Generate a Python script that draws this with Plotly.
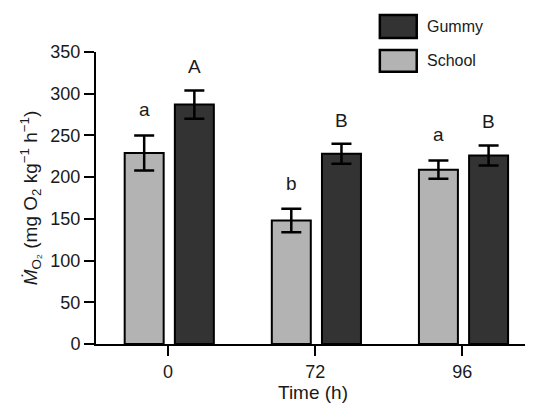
import plotly.graph_objects as go

categories = ["0", "72", "96"]
school_mean = [229, 148, 209]
school_err = [21, 14, 11]
gummy_mean = [287, 228, 226]
gummy_err = [17, 12, 12]
school_letters = ["a", "b", "a"]
gummy_letters = ["A", "B", "B"]

y_ticks = [0, 50, 100, 150, 200, 250, 300, 350]

SCHOOL_COLOR = "#b3b3b3"
GUMMY_COLOR = "#333333"
FONT = "Liberation Sans, Arial, sans-serif"
TEXT_COLOR = "#1a1a1a"

xpos = list(range(len(categories)))
BAR_W = 0.265
SCHOOL_OFF = -0.295
GUMMY_OFF = 0.046

fig = go.Figure()
fig.add_trace(go.Bar(
    x=xpos, y=school_mean, name="School",
    width=BAR_W, offset=SCHOOL_OFF,
    marker=dict(color=SCHOOL_COLOR, line=dict(color="black", width=2)),
    error_y=dict(type="data", array=school_err, visible=True,
                 color="black", thickness=2.5, width=10),
    showlegend=False,
))
fig.add_trace(go.Bar(
    x=xpos, y=gummy_mean, name="Gummy",
    width=BAR_W, offset=GUMMY_OFF,
    marker=dict(color=GUMMY_COLOR, line=dict(color="black", width=2)),
    error_y=dict(type="data", array=gummy_err, visible=True,
                 color="black", thickness=2.5, width=10),
    showlegend=False,
))

annotations = []
for i in xpos:
    annotations.append(dict(
        x=i + SCHOOL_OFF + BAR_W / 2, y=school_mean[i] + school_err[i],
        xref="x", yref="y", text=school_letters[i], showarrow=False,
        yanchor="bottom", yshift=13,
        font=dict(family=FONT, size=19, color=TEXT_COLOR)))
    annotations.append(dict(
        x=i + GUMMY_OFF + BAR_W / 2, y=gummy_mean[i] + gummy_err[i],
        xref="x", yref="y", text=gummy_letters[i], showarrow=False,
        yanchor="bottom", yshift=11,
        font=dict(family=FONT, size=19, color=TEXT_COLOR)))

# manual legend (boxes drawn as shapes in paper coordinates)
legend_items = [("Gummy", GUMMY_COLOR, 1.048, 1.127), ("School", SCHOOL_COLOR, 0.932, 1.007)]
shapes = []
for name, col, y0, y1 in legend_items:
    shapes.append(dict(type="rect", xref="paper", yref="paper",
                       x0=0.654, x1=0.739, y0=y0, y1=y1,
                       fillcolor=col, line=dict(color="black", width=2.5)))
    annotations.append(dict(x=0.757, y=(y0 + y1) / 2, xref="paper", yref="paper",
                            text=name, showarrow=False, xanchor="left", yanchor="middle",
                            font=dict(family=FONT, size=16, color=TEXT_COLOR)))

fig.update_layout(
    width=525, height=396,
    margin=dict(l=88, r=3, t=44, b=60),
    paper_bgcolor="white", plot_bgcolor="white",
    barmode="overlay",
    font=dict(family=FONT, size=18, color=TEXT_COLOR),
    annotations=annotations, shapes=shapes,
    xaxis=dict(
        tickmode="array", tickvals=xpos, ticktext=categories,
        range=[-0.49, 2.46],
        showline=True, linecolor="black", linewidth=2,
        ticks="outside", ticklen=10, tickwidth=2, tickcolor="black",
        showgrid=False, zeroline=False,
        title=dict(text="Time (h)", standoff=2, font=dict(size=19)),
        tickfont=dict(size=18),
    ),
    yaxis=dict(
        range=[0, 350], tickvals=y_ticks,
        showline=True, linecolor="black", linewidth=2,
        ticks="outside", ticklen=10, tickwidth=2, tickcolor="black",
        showgrid=False, zeroline=False,
        title=dict(text="<i>Ṁ</i><sub>O₂</sub> (mg O<sub>2</sub> kg<sup>−1</sup> h<sup>−1</sup>)",
                   standoff=8, font=dict(size=19)),
        tickfont=dict(size=18),
    ),
)

fig.write_html("out.html")
